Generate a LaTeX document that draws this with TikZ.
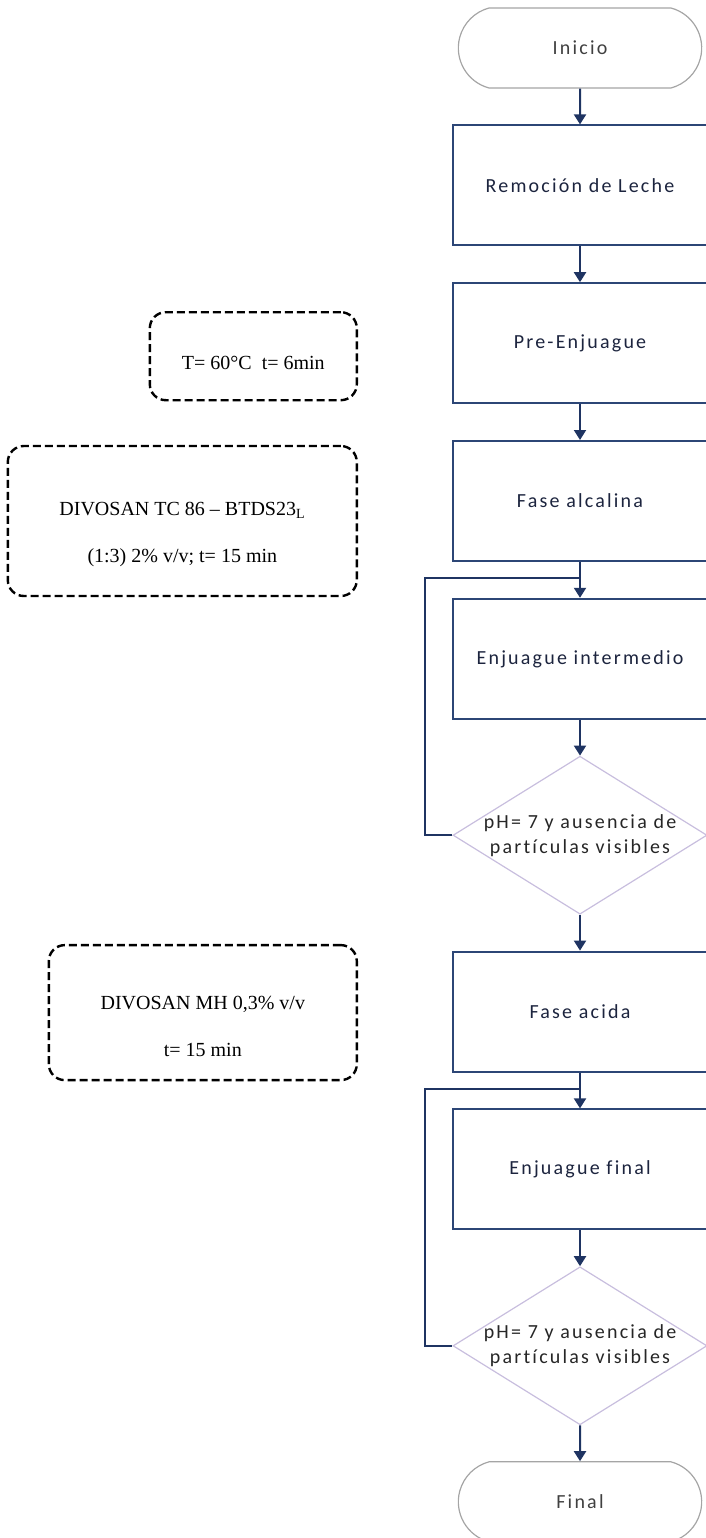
\documentclass[tikz,border=0pt]{standalone}
\usepackage{fontspec}
\setmainfont{Liberation Serif}
\newfontfamily\flowfont[LetterSpace=11,Ligatures=NoCommon]{Carlito}
\usetikzlibrary{shapes.geometric,shapes.misc,arrows.meta,chains,calc,positioning}

\definecolor{flownavy}{RGB}{31,52,98}
\definecolor{boxnavy}{RGB}{44,70,118}
\definecolor{termgray}{RGB}{165,165,165}
\definecolor{declilac}{RGB}{200,190,222}
\definecolor{inknavy}{RGB}{28,36,62}

\begin{document}
\begin{tikzpicture}[%
    x=1pt, y=1pt,
    >={Triangle[length=10pt,width=12pt]}, % Filled tips like the original
    start chain=going below,    % General flow is top-to-bottom
    node distance=35.8pt,       % Gap between the boxes
    every join/.style={norm},   % Default linetype for connecting boxes
    ]
% -------------------------------------------------
% A few box styles
\tikzset{
  base/.style={draw, on chain, align=center, text=inknavy,
    font=\flowfont\fontsize{20}{24}\selectfont},
  term/.style={base, rounded rectangle, rounded rectangle arc length=150,
    draw=termgray, line width=1.2pt, minimum width=250pt, minimum height=80pt,
    text=black!75},
  proc/.style={base, rectangle, draw=boxnavy, line width=2pt,
    minimum width=254pt, minimum height=120pt},
  test/.style={base, diamond, draw=declilac, line width=1.2pt, inner sep=0pt,
    minimum width=254pt, minimum height=158pt},
  testtext/.style={align=center, text=black!85,
    font=\flowfont\fontsize{20}{25}\selectfont},
  note/.style={draw, dashed, dash pattern=on 8pt off 4pt, line width=2.4pt,
    rounded corners=16pt},
  notetext/.style={align=center, font=\fontsize{20}{47}\selectfont},
  % Connector line styles
  norm/.style={->, draw=flownavy, line width=2pt},
  back/.style={draw=flownavy, line width=2pt}
}
\useasboundingbox (0,0) rectangle (705,-1538);
% -------------------------------------------------
% Start by placing the nodes
\node [term] (t0) at (580,-48) {Inicio};
\node [proc, join] (p1) {Remoción de Leche};
\node [proc, join] (p2) {Pre-Enjuague};
\node [proc, join] (p3) {Fase alcalina};
\node [proc, join] (p4) {Enjuague intermedio};
\node [test, join] (c1) {};
\node [testtext] (c1t) at (c1) {pH= 7 y ausencia de\\partículas visibles};
\node [proc, join] (p5) {Fase acida};
\node [proc, join] (p6) {Enjuague final};
\node [test, join] (c2) {};
\node [testtext] (c2t) at (c2) {pH= 7 y ausencia de\\partículas visibles};
\node [term, join] (t1) {Final};

% Notes on the left
\node [note, minimum width=207pt, minimum height=88pt, left=94pt of p2,
  yshift=-13pt] (n1) {};
\node [notetext] (n1t) at ([yshift=-7pt]n1.center) {T= 60°C\ \ t= 6min};
\node [note, minimum width=349pt, minimum height=150pt, left=94pt of p3,
  yshift=-20pt] (n2) {};
\node [notetext] (n2t) at ([yshift=-13pt]n2.center)
  {DIVOSAN TC 86 – BTDS23\textsubscript{L}\\(1:3) 2\%\ v/v; t= 15 min};
\node [note, minimum width=308pt, minimum height=135pt, left=94pt of p5,
  yshift=-1pt] (n3) {};
\node [notetext] (n3t) at ([yshift=-14pt]n3.center)
  {DIVOSAN MH 0,3\%\ v/v\\t= 15 min};

% Return loops
\draw [back] (c1.west) -- ++(-27,0) |- ($(p3.south)!.45!(p4.north)$);
\draw [back] (c2.west) -- ++(-27,0) |- ($(p5.south)!.45!(p6.north)$);

% -------------------------------------------------
\end{tikzpicture}
\end{document}
